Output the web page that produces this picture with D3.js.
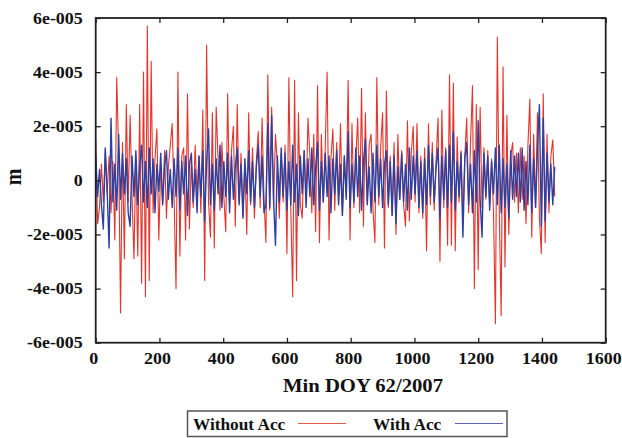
<!DOCTYPE html>
<html>
<head>
<meta charset="utf-8">
<script src="https://cdn.jsdelivr.net/npm/d3@7"></script>
<style>
  body { margin: 0; background: #fff; }
  text { font-family: "Liberation Serif", "Times New Roman", serif; font-weight: bold; fill: #111; }
</style>
</head>
<body>
<svg id="chart" width="622" height="438"></svg>
<script>
// one sample every 6 minutes, values in micrometres (1e-6 m)
const minuteStep = 6

const withoutAcc = [
  15, -16, -10, 6, -8, 11, -5, 9, -12, 7,
  -22, 38, 10, -49, 14, -29, 28, -8, 24, -6,
  -29, 9, -28, 28, -38, 40, -43, 57, -37, 44,
  -12, 8, 19, -22, 6, -9, 11, -14, 5, 13,
  21, -7, -40, 40, -28, 9, 12, -22, 32, -18,
  7, -10, 13, -6, 9, -12, 26, -37, 50, -8,
  -21, 25, -25, 27, 8, -11, 14, -6, -19, 32,
  -9, 11, 20, -17, 28, -8, 10, -13, 6, -20,
  25, -9, 12, -14, 7, 18, -10, 23, -7, -23,
  39, -11, 27, -9, 17, 6, -14, 10, -8, 13,
  -27, 38, -10, -43, 37, -37, 25, -9, -14, 11,
  -7, 23, 9, -12, 17, -19, 35, -23, 17, -8,
  12, 40, -22, 8, 19, -11, 14, -7, 21, -13,
  9, -6, 37, -22, 21, -10, 8, 23, -12, 34,
  -17, 25, -8, 13, 17, -11, -23, 38, -9, 12,
  25, -25, 33, -10, 9, -13, 14, -20, 17, -7,
  11, -9, -17, 22, -15, 10, 20, -8, 21, -12,
  9, -14, 12, -26, 21, -9, 14, -11, 8, 23,
  -30, 26, -10, 12, -24, 39, -24, 36, -26, 16,
  -8, 11, -15, 9, 23, -12, 14, 35, -40, 28,
  -33, 27, -10, 12, -7, 11, -9, 8, -12, -53,
  53, -11, -50, 42, -32, 24, -20, 9, 14, -8,
  10, -12, 12, -7, 9, -16, 13, 30, -21, 17,
  -10, 25, -14, -27, 32, -23, 17, -12, 9, 15,
  -6
]

const withAcc = [
  9, -6, 4, -9, -18, 12, -4, -25, 23, -8,
  6, -11, 17, -7, 10, -5, 8, -12, -17, 9,
  -6, 11, -9, 5, 13, -8, 7, -10, 12, -5,
  8, -12, 6, -4, 10, -9, 5, 11, -7, 4,
  -10, 8, -6, 12, -11, 7, -5, 9, -13, 6,
  10, -8, 4, -12, 9, -6, 11, -15, 7, 19,
  -9, 6, -11, 8, -5, 13, -10, 7, -6, 10,
  -12, 9, -7, 5, 12, -9, 6, -14, 8, -5,
  11, -8, 7, -10, 5, 13, -6, 9, -12, -9,
  21, -10, 24, -7, -24, 9, -8, 12, -6, 10,
  -11, 7, -9, 13, -8, 6, -13, 9, -5, 11,
  -10, 8, -6, 12, -9, 5, 14, -11, 7, -8,
  10, -6, 9, -12, 8, -5, 11, -9, 6, -13,
  9, -7, 18, -10, 6, -8, 12, -6, 9, -11,
  7, 15, -9, 5, -12, 10, -8, 13, -6, 8,
  -10, 6, 11, -9, 7, -13, 9, -16, 5, -7,
  10, -8, 6, -11, 12, -7, 9, -5, 11, -10,
  7, -12, 8, -9, 13, -6, 10, -8, 5, 12,
  -14, 9, -7, 11, -10, 13, -8, 18, -11, 7,
  -6, 10, -21, 8, 14, -9, 6, -12, 11, -8,
  22, -7, -21, 10, -6, 9, -11, 7, -5, 12,
  -9, 13, -12, 8, -10, 6, -14, 11, -7, 9,
  -6, 10, -8, 12, -11, 7, -9, 13, -12, 8,
  -10, 12, 28, -17, 23, -15, 10, -8, 6, -9,
  5
]

const seriesNames = ['Without Acc', 'With Acc']
const seriesColors = ['#e4342b', '#2c40a2']
const seriesWidths = [1.1, 1.4]
const xTicks = [0, 200, 400, 600, 800, 1000, 1200, 1400, 1600]
const yTicks = [-6e-5, -4e-5, -2e-5, 0, 2e-5, 4e-5, 6e-5]
const yTickLabels = ['-6e-005', '-4e-005', '-2e-005', '0', '2e-005', '4e-005', '6e-005']

const stretch = 1.12 // the original picture is a little wider than its fonts
const plotLeft = 95.7, plotRight = 605.7, plotTop = 18, plotBottom = 342.7

const svg = d3.select('#chart')
const x = d3.scaleLinear([0, 1600], [plotLeft, plotRight])
const y = d3.scaleLinear([-6e-5, 6e-5], [plotBottom, plotTop])

const line = d3.line()
  .x((d, i) => x(i * minuteStep))
  .y((d) => y(d * 1e-6))

svg.append('g')
  .selectAll('path')
  .data([withoutAcc, withAcc])
  .join('path')
  .attr('d', line)
  .attr('fill', 'none')
  .attr('stroke', (d, i) => seriesColors[i])
  .attr('stroke-width', (d, i) => seriesWidths[i])
  .attr('stroke-linejoin', 'round')

function styleAxis(g) {
  g.select('.domain').remove()
  g.selectAll('.tick line').attr('stroke', '#222').attr('stroke-width', 1.3)
  g.selectAll('text').attr('font-size', 16).attr('fill', '#111')
}

svg.append('g')
  .attr('transform', `translate(0,${plotBottom})`)
  .call(d3.axisBottom(x).tickValues(xTicks).tickFormat(d3.format('d')).tickSizeInner(-5).tickSizeOuter(0).tickPadding(10))
  .call(styleAxis)
  .call((g) => g.selectAll('text').attr('transform', `translate(-2.5,0) scale(${stretch},1)`))

svg.append('g')
  .attr('transform', `translate(0,${plotTop})`)
  .call(d3.axisTop(x).tickValues(xTicks).tickFormat('').tickSizeInner(-5).tickSizeOuter(0))
  .call(styleAxis)

svg.append('g')
  .attr('transform', `translate(${plotLeft},0)`)
  .call(d3.axisLeft(y).tickValues(yTicks).tickFormat((d, i) => yTickLabels[i]).tickSizeInner(-5).tickSizeOuter(0))
  .call(styleAxis)
  .call((g) => g.selectAll('text').attr('x', 0).attr('transform', `translate(-13,0) scale(${stretch},1)`))

svg.append('g')
  .attr('transform', `translate(${plotRight},0)`)
  .call(d3.axisRight(y).tickValues(yTicks).tickFormat('').tickSizeInner(-5).tickSizeOuter(0))
  .call(styleAxis)

svg.append('rect')
  .attr('x', plotLeft).attr('y', plotTop)
  .attr('width', plotRight - plotLeft).attr('height', plotBottom - plotTop)
  .attr('fill', 'none').attr('stroke', '#222').attr('stroke-width', 1.8)

// axis titles
svg.append('text')
  .attr('transform', `translate(363,392) scale(1.15,1)`)
  .attr('text-anchor', 'middle')
  .attr('font-size', 18)
  .text('Min DOY 62/2007')

svg.append('text')
  .attr('transform', `translate(21,177) rotate(-90) scale(1,1.14)`)
  .attr('text-anchor', 'middle')
  .attr('font-size', 20)
  .text('m')

// legend
const legend = svg.append('g')
legend.append('rect')
  .attr('x', 187.5).attr('y', 411)
  .attr('width', 319.5).attr('height', 25.5)
  .attr('fill', '#fff').attr('stroke', '#555').attr('stroke-width', 1.5)

const legendX = [{ text: 193, line: 298 }, { text: 373, line: 455 }]
legend.selectAll('g.item')
  .data(seriesNames)
  .join('g')
  .attr('class', 'item')
  .each(function (name, i) {
    const g = d3.select(this)
    g.append('text')
      .attr('transform', `translate(${legendX[i].text},430) scale(1.08,1)`)
      .attr('font-size', 16)
      .text(name)
    g.append('line')
      .attr('x1', legendX[i].line).attr('x2', legendX[i].line + 48)
      .attr('y1', 423.5).attr('y2', 423.5)
      .attr('stroke', seriesColors[i]).attr('stroke-width', 1.2)
      .attr('opacity', 0.8)
  })
</script>
</body>
</html>
